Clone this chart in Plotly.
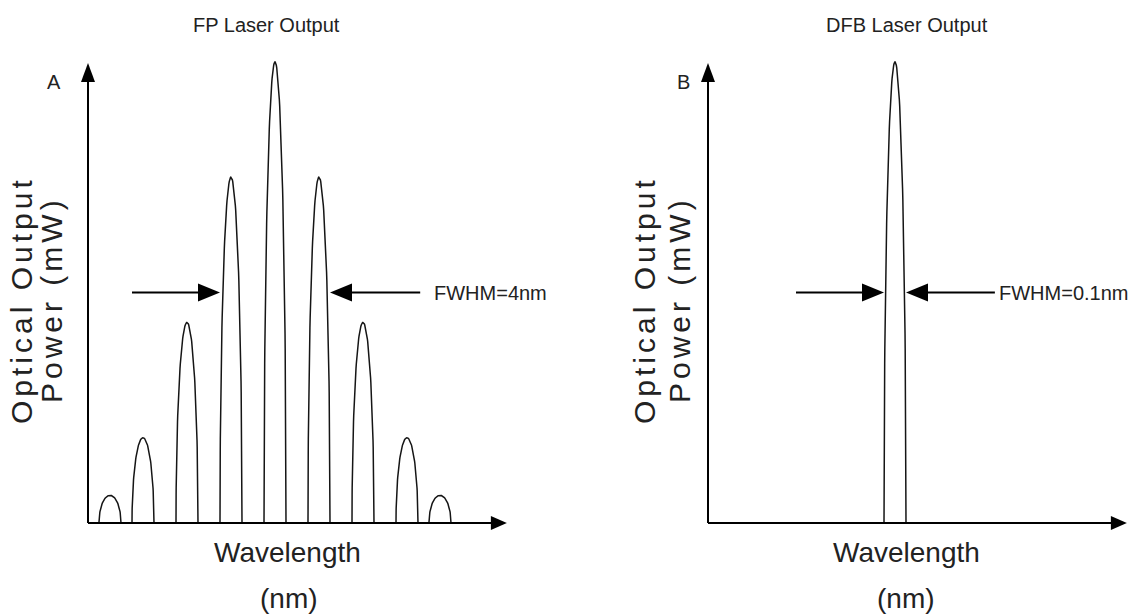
import numpy as np
import plotly.graph_objects as go

W, H = 1131, 616

# ---------------- data (relative wavelength units / relative optical power) ----------------
fp_mode_wavelength = [0.5, 1.25, 2.25, 3.25, 4.25, 5.25, 6.25, 7.25, 8.0]
fp_mode_power = [0.6, 1.85, 4.35, 7.5, 10.0, 7.5, 4.35, 1.85, 0.6]
dfb_mode_wavelength = [4.25]
dfb_mode_power = [10.0]
mode_half_width = 0.25

panel_titles = ["FP Laser Output", "DFB Laser Output"]
panel_letters = ["A", "B"]
fwhm_labels = ["FWHM=4nm", "FWHM=0.1nm"]
x_title_lines = ["Wavelength", "(nm)"]
y_title_lines = ["Optical Output", "Power (mW)"]

# ---------------- geometry (pixels) ----------------
ORIGIN = [88, 708]          # x pixel of each y-axis
BASE_Y = 523                # pixel row of x-axes
PX_X, PX_Y = 44.0, 46.1     # pixels per data unit
SPLIT = W / 2
X_END, Y_END = 9.52, 9.98   # arrow tips of the axes (data units)

INK = "#151515"
TXT = "#222222"
FONT = "Liberation Sans, Arial, sans-serif"


def px(x):
    return x / W


def py(y):
    return 1 - y / H


def arch_trace(centers, powers, xa, ya):
    xs, ys = [], []
    t = np.linspace(0, np.pi, 90)
    for c, p in zip(centers, powers):
        xs += list(c + mode_half_width * np.cos(t)) + [None]
        ys += list(p * np.sin(t)) + [None]
    return go.Scatter(x=xs, y=ys, mode="lines", line=dict(color=INK, width=1.5),
                      xaxis=xa, yaxis=ya, hoverinfo="skip", showlegend=False)


def head(xref, yref, x, y, direction, length, half):
    if direction == "up":
        path = f"M0,0 L{-half},{-length} L{half},{-length} Z"
    elif direction == "right":
        path = f"M0,0 L{-length},{half} L{-length},{-half} Z"
    else:  # left
        path = f"M0,0 L{length},{half} L{length},{-half} Z"
    return dict(type="path", xref=xref, yref=yref, xsizemode="pixel", ysizemode="pixel",
                xanchor=x, yanchor=y, path=path, fillcolor="black",
                line=dict(width=0), layer="above")


def seg(xref, yref, x0, y0, x1, y1, width=2):
    return dict(type="line", xref=xref, yref=yref, x0=x0, y0=y0, x1=x1, y1=y1,
                line=dict(color="black", width=width), layer="above")


fig = go.Figure()
fig.add_trace(arch_trace(fp_mode_wavelength, fp_mode_power, "x", "y"))
fig.add_trace(arch_trace(dfb_mode_wavelength, dfb_mode_power, "x2", "y2"))

shapes = []
annotations = []

panels = [
    dict(xr="x", yr="y", centers=fp_mode_wavelength, powers=fp_mode_power,
         left_mode=3, right_mode=5, tail_l=1.0, tail_r=7.55, text_x=7.82),
    dict(xr="x2", yr="y2", centers=dfb_mode_wavelength, powers=dfb_mode_power,
         left_mode=0, right_mode=0, tail_l=2.0, tail_r=6.52, text_x=6.57),
]

AX_HEAD_UP = (19, 7)
AX_HEAD_RIGHT = (16, 7)
FW_HEAD = (22, 9)

for i, p in enumerate(panels):
    xr, yr = p["xr"], p["yr"]
    # axes
    shapes.append(seg(xr, yr, 0, 0, 0, Y_END - AX_HEAD_UP[0] / PX_Y + 0.05))
    shapes.append(head(xr, yr, 0, Y_END, "up", *AX_HEAD_UP))
    shapes.append(seg(xr, yr, 0, 0, X_END - AX_HEAD_RIGHT[0] / PX_X + 0.05, 0))
    shapes.append(head(xr, yr, X_END, 0, "right", *AX_HEAD_RIGHT))

    # FWHM arrows at half maximum
    half_max = max(p["powers"]) / 2
    tip_l = p["centers"][p["left_mode"]] - mode_half_width
    tip_r = p["centers"][p["right_mode"]] + mode_half_width
    shapes.append(seg(xr, yr, p["tail_l"], half_max, tip_l - FW_HEAD[0] / PX_X + 0.05, half_max))
    shapes.append(head(xr, yr, tip_l, half_max, "right", *FW_HEAD))
    shapes.append(seg(xr, yr, p["tail_r"], half_max, tip_r + FW_HEAD[0] / PX_X - 0.05, half_max))
    shapes.append(head(xr, yr, tip_r, half_max, "left", *FW_HEAD))

    annotations.append(dict(xref=xr, yref=yr, x=p["text_x"], y=half_max, text=fwhm_labels[i],
                            showarrow=False, xanchor="left", yanchor="middle",
                            font=dict(family=FONT, size=20, color=TXT)))

# titles, letters, axis titles
title_cx = [266.5, 907]
letter_pos = [(54, 82), (683, 82)]
xt_cx = [[287, 289], [906, 906]]
yt_cx = [[21, 51], [644, 679]]

for i in range(2):
    annotations.append(dict(xref="paper", yref="paper", x=px(title_cx[i]), y=py(25),
                            text=panel_titles[i], showarrow=False, xanchor="center",
                            yanchor="middle", font=dict(family=FONT, size=20, color=TXT)))
    annotations.append(dict(xref="paper", yref="paper", x=px(letter_pos[i][0]),
                            y=py(letter_pos[i][1]), text=panel_letters[i], showarrow=False,
                            xanchor="center", yanchor="middle",
                            font=dict(family=FONT, size=20, color=TXT)))
    annotations.append(dict(xref="paper", yref="paper", x=px(xt_cx[i][0]), y=py(552),
                            text=x_title_lines[0], showarrow=False, xanchor="center",
                            yanchor="middle", font=dict(family=FONT, size=28, color=TXT)))
    annotations.append(dict(xref="paper", yref="paper", x=px(xt_cx[i][1]), y=py(598),
                            text=x_title_lines[1], showarrow=False, xanchor="center",
                            yanchor="middle", font=dict(family=FONT, size=28, color=TXT)))
    for j in range(2):
        annotations.append(dict(xref="paper", yref="paper", x=px(yt_cx[i][j]), y=py(300),
                                text=f'<span style="letter-spacing:4px">{y_title_lines[j]}</span>',
                                showarrow=False, textangle=-90, xanchor="center",
                                yanchor="middle", font=dict(family=FONT, size=30, color=TXT)))

yrange = [-(H - BASE_Y) / PX_Y, BASE_Y / PX_Y]
fig.update_layout(
    width=W, height=H,
    margin=dict(l=0, r=0, t=0, b=0),
    paper_bgcolor="white", plot_bgcolor="white",
    showlegend=False,
    xaxis=dict(domain=[0, 0.5], range=[-ORIGIN[0] / PX_X, (SPLIT - ORIGIN[0]) / PX_X],
               visible=False, anchor="y", fixedrange=True),
    yaxis=dict(domain=[0, 1], range=yrange, visible=False, anchor="x", fixedrange=True),
    xaxis2=dict(domain=[0.5, 1], range=[-(ORIGIN[1] - SPLIT) / PX_X, (W - ORIGIN[1]) / PX_X],
                visible=False, anchor="y2", fixedrange=True),
    yaxis2=dict(domain=[0, 1], range=yrange, visible=False, anchor="x2", fixedrange=True),
    shapes=shapes,
    annotations=annotations,
)

fig.write_html("out.html", config={"displayModeBar": False})
